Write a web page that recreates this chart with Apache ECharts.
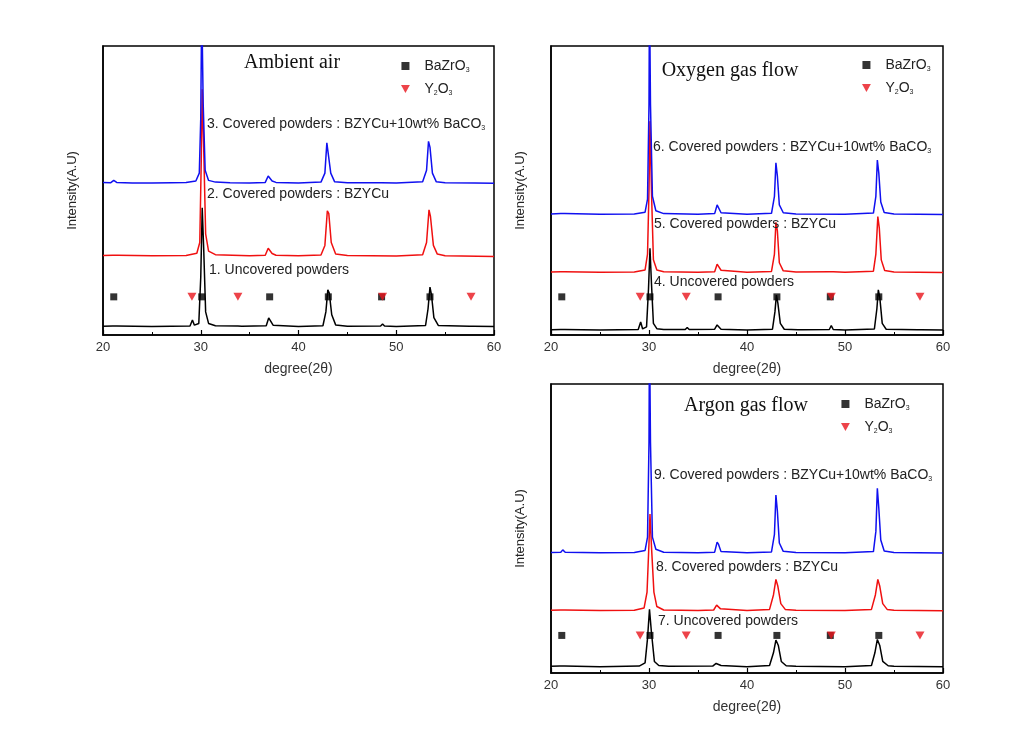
<!DOCTYPE html>
<html>
<head>
<meta charset="utf-8">
<script src="https://cdn.jsdelivr.net/npm/echarts@6/dist/echarts.min.js"></script>
<style>html,body{margin:0;padding:0;background:#fff}#c{width:1024px;height:740px}</style>
</head>
<body>
<div id="c"></div>
<script>
// ---- Data: [2θ (degree), intensity (A.U., stacked offset included)] ----
// Panel 1: Ambient air
var air1Black = [[20,3],[21,3.1],[21.2,3.6],[21.4,3.1],[25,2.9],[28.9,3.1],[29.15,5.2],[29.35,3.4],[29.8,4],[30.0,20],[30.15,44],[30.3,30],[30.5,8],[30.8,4],[31.5,3.2],[33.8,3.1],[34,3.4],[34.2,3.0],[36.7,3.2],[36.95,5.9],[37.1,5.6],[37.4,3.4],[40,2.9],[42.5,3.2],[42.8,8],[43.0,15.6],[43.15,14.5],[43.4,7],[43.8,3.5],[45,3],[48.4,3.1],[48.6,3.8],[48.8,3.1],[50,2.9],[53,3.3],[53.25,9],[53.45,16.6],[53.6,14],[53.85,6],[54.3,3.3],[57.5,3],[57.7,3.3],[57.9,3],[60,2.9]];
var air2Red = [[20,27.5],[21.0,27.6],[21.2,28.2],[21.5,27.6],[25,27.4],[28.5,27.5],[29.6,28.3],[29.9,32],[30.05,60],[30.15,85],[30.3,65],[30.5,35],[30.8,29],[31.5,27.8],[35,27.4],[36.6,27.6],[36.9,30],[37.05,30.4],[37.3,28.2],[37.7,27.6],[40,27.4],[42.3,27.7],[42.7,31],[42.95,43],[43.1,42],[43.35,32],[43.8,28],[45,27.5],[50,27.3],[52.7,27.8],[53.1,32],[53.35,43.3],[53.5,41],[53.8,31],[54.2,28],[55,27.4],[60,27.2]];
var air3Blue = [[20,52.8],[20.8,52.7],[21.1,53.5],[21.4,52.8],[23,52.6],[25,52.6],[27,52.7],[28.5,52.8],[29.5,53.3],[29.85,56],[30.0,75],[30.1,115],[30.25,80],[30.45,57],[30.8,53.5],[31.5,52.9],[33,52.7],[35,52.6],[36.6,52.8],[36.9,55],[37.05,55.6],[37.3,53.3],[37.7,52.8],[40,52.6],[42.3,52.9],[42.7,56],[42.9,66.5],[43.05,66],[43.3,56],[43.7,53],[45,52.7],[48.5,52.7],[50,52.6],[52.7,53],[53.1,57],[53.3,67],[53.45,65],[53.7,56],[54.1,53],[55,52.7],[58,52.6],[60,52.5]];
// Panel 2: Oxygen gas flow
var oxy4Black = [[20,1.8],[21,1.9],[21.2,2.3],[21.4,1.9],[25,1.7],[28.9,1.9],[29.15,4.5],[29.35,2.1],[29.75,2.8],[29.95,16],[30.1,30],[30.25,18],[30.45,4],[30.8,2.2],[31.5,1.9],[33.7,1.9],[33.9,2.6],[34.1,1.9],[36.7,2],[36.95,3.5],[37.1,3.3],[37.35,2],[40,1.7],[42.6,2],[42.85,8],[43.0,13.8],[43.15,11],[43.4,4],[43.8,2],[45.2,1.8],[45.4,2.2],[45.6,1.8],[48.4,1.9],[48.6,3.3],[48.8,1.9],[50,1.7],[53.0,2.1],[53.25,9],[53.4,15.6],[53.55,13],[53.8,4],[54.2,2],[57.4,1.8],[57.6,2.3],[57.8,1.8],[60,1.7]];
var oxy5Red = [[20,21.8],[21,21.9],[21.2,22.4],[21.4,21.9],[25,21.7],[28.5,21.8],[29.6,22.5],[29.85,28],[30.0,50],[30.1,74],[30.25,50],[30.45,26],[30.8,22.5],[31.5,21.9],[35,21.7],[36.7,21.9],[36.95,24.5],[37.1,25],[37.35,22.4],[40,21.7],[42.5,22],[42.8,28],[42.95,39],[43.1,36],[43.3,25],[43.7,22.2],[45,21.8],[48.4,21.9],[48.6,22.3],[48.8,21.9],[50,21.7],[52.9,22.1],[53.15,28],[53.35,41],[53.5,37],[53.7,26],[54.05,22.3],[55,21.8],[60,21.6]];
var oxy6Blue = [[20,41.9],[21,42],[21.2,42.5],[21.4,42],[25,41.8],[28.5,41.9],[29.6,42.5],[29.85,47],[30.0,80],[30.05,120],[30.15,80],[30.35,48],[30.7,43],[31.5,42],[35,41.8],[36.7,42],[36.95,45],[37.1,44.5],[37.35,42.3],[40,41.8],[42.5,42.1],[42.8,48],[42.95,59.6],[43.1,55],[43.3,45],[43.7,42.3],[45,41.9],[50,41.8],[52.9,42.2],[53.15,48],[53.3,60.5],[53.45,56],[53.65,46],[54,42.4],[55,41.9],[60,41.7]];
// Panel 3: Argon gas flow
var arg7Black = [[20,2.3],[20.9,2.4],[21.1,2.8],[21.4,2.4],[25,2.2],[29,2.4],[29.6,3.5],[29.85,12],[30.05,22],[30.25,14],[30.55,4],[31,2.6],[32,2.3],[36.5,2.4],[36.85,3.3],[37.05,3.4],[37.35,2.6],[40,2.2],[42.3,2.6],[42.7,7],[42.95,11.4],[43.2,9.5],[43.5,4],[44,2.5],[45,2.3],[50,2.2],[52.7,2.6],[53.05,7],[53.3,11.6],[53.55,9.5],[53.85,4],[54.4,2.5],[55,2.3],[60,2.2]];
var arg8Red = [[20,21.7],[21,21.8],[21.2,22.2],[21.4,21.8],[25,21.6],[28.5,21.7],[29.5,22.5],[29.8,28],[30.0,45],[30.1,55],[30.25,44],[30.5,28],[30.8,23],[31.5,21.8],[35,21.6],[36.6,21.8],[36.9,23.5],[37.05,24],[37.3,22.2],[40,21.6],[42.3,22],[42.7,27],[42.95,32.4],[43.15,30],[43.45,24],[43.9,22],[45,21.7],[50,21.6],[52.7,22],[53.1,27],[53.35,32.4],[53.55,30],[53.85,24],[54.3,22],[55,21.7],[60,21.5]];
var arg9Blue = [[20,41.7],[21,41.8],[21.2,42.6],[21.45,41.8],[25,41.6],[28.5,41.7],[29.6,42.4],[29.85,47],[30.0,80],[30.05,120],[30.15,80],[30.35,47],[30.7,42.8],[31.5,41.8],[35,41.6],[36.7,41.8],[36.95,45.3],[37.1,44.5],[37.35,42],[40,41.6],[42.5,41.9],[42.8,48],[42.95,61.6],[43.1,56],[43.3,45],[43.7,42.1],[45,41.7],[50,41.6],[52.9,42],[53.15,49],[53.3,63.9],[53.45,57],[53.65,46],[54,42.2],[55,41.7],[60,41.5]];
// Phase reference markers (2θ positions) and marker heights per panel
var bazro3Pos = [21.1, 30.1, 37.05, 43.05, 48.5, 53.45];
var y2o3Pos = [29.1, 33.8, 48.6, 57.65];
var markerLevel = [13.2, 13.2, 13.0];
// Axis ticks
var xTicks = [20, 30, 40, 50, 60];
var panelTitles = ['Ambient air', 'Oxygen gas flow', 'Argon gas flow'];

var spectra = [[air1Black, air2Red, air3Blue],[oxy4Black, oxy5Red, oxy6Blue],[arg7Black, arg8Red, arg9Blue]];
var lineColors = ['#000000', '#f01010', '#1010f0'];
var grids = [
  {left: 103, top: 46, width: 391, height: 289},
  {left: 551, top: 46, width: 392, height: 289},
  {left: 551, top: 384, width: 392, height: 289}
];
var FONT = 'Liberation Sans, Arial, sans-serif';
var chart = echarts.init(document.getElementById('c'), null, {renderer: 'canvas'});
var option = {
  animation: false,
  backgroundColor: '#fff',
  grid: grids.map(function (g) { return Object.assign({show: true, borderColor: '#000', borderWidth: 1.5, backgroundColor: 'transparent', containLabel: false}, g); }),
  xAxis: grids.map(function (g, i) {
    return {
      type: 'value', gridIndex: i, min: xTicks[0], max: xTicks[xTicks.length - 1], interval: 10,
      name: 'degree(2\u03b8)', nameLocation: 'middle', nameGap: 27,
      nameTextStyle: {fontFamily: FONT, fontSize: 14, color: '#333'},
      axisLine: {show: true, onZero: false, lineStyle: {color: '#000', width: 1.5}},
      axisTick: {show: true, inside: true, length: 5, lineStyle: {color: '#000', width: 1.2}},
      minorTick: {show: true, splitNumber: 2, length: 3, lineStyle: {color: '#000', width: 1}},
      axisLabel: {fontFamily: FONT, fontSize: 13, color: '#333', margin: 6},
      splitLine: {show: false}
    };
  }),
  yAxis: grids.map(function (g, i) {
    return {
      type: 'value', gridIndex: i, min: 0, max: 100,
      name: 'Intensity(A.U)', nameLocation: 'middle', nameGap: 24,
      nameTextStyle: {fontFamily: FONT, fontSize: 13, color: '#222'},
      axisLine: {show: true, lineStyle: {color: '#000', width: 1.5}},
      axisTick: {show: false}, axisLabel: {show: false}, splitLine: {show: false}
    };
  }),
  legend: grids.map(function (g, i) {
    var pos = [[396, 54], [857, 53], [836, 392]][i];
    return {
      orient: 'vertical', left: pos[0], top: pos[1], itemGap: 8,
      itemWidth: 28, itemHeight: 8, selectedMode: false,
      data: [
        {name: 'BaZrO3', icon: 'path://M0,0L10,0L10,10L0,10Z', itemStyle: {color: '#000'}},
        {name: 'Y2O3', icon: 'path://M0,0L10,0L5,9Z', itemStyle: {color: '#e8141c'}}
      ],
      formatter: function (n) { return n === 'BaZrO3' ? '{a|BaZrO}{s|3}' : '{a|Y}{s|2}{a|O}{s|3}'; },
      textStyle: {
        rich: {
          a: {fontFamily: FONT, fontSize: 14, color: '#222', lineHeight: 16, verticalAlign: 'middle'},
          s: {fontFamily: FONT, fontSize: 7, color: '#222', lineHeight: 16, verticalAlign: 'bottom', padding: [6, 0, 0, 0]}
        }
      }
    };
  }),
  series: [],
  graphic: []
};

spectra.forEach(function (set, p) {
  set.forEach(function (data, k) {
    option.series.push({
      type: 'line', xAxisIndex: p, yAxisIndex: p, data: data, showSymbol: false,
      lineStyle: {color: lineColors[k], width: 1.5}, itemStyle: {color: lineColors[k]},
      clip: true, silent: true, z: 2 + k
    });
  });
  option.series.push({
    type: 'scatter', name: 'BaZrO3', xAxisIndex: p, yAxisIndex: p, symbol: 'rect', symbolSize: 7,
    itemStyle: {color: '#000'}, z: 6,
    data: bazro3Pos.map(function (x) { return [x, markerLevel[p]]; })
  });
  option.series.push({
    type: 'scatter', name: 'Y2O3', xAxisIndex: p, yAxisIndex: p, symbol: 'path://M0,0L10,0L5,9Z', symbolSize: [9, 8],
    itemStyle: {color: '#e8141c'}, z: 7,
    data: y2o3Pos.map(function (x) { return [x, markerLevel[p]]; })
  });
});

// Panel titles (serif) and curve annotations
var titlePos = [[292, 63], [730, 71], [746, 406]];
titlePos.forEach(function (tp, i) {
  option.graphic.push({type: 'text', x: tp[0], y: tp[1], z: 10, silent: true,
    style: {text: panelTitles[i], fill: '#111', font: '20px "Liberation Serif", "Times New Roman", serif', align: 'center', verticalAlign: 'middle'}});
});
var labelRich = {
  a: {fontFamily: FONT, fontSize: 14, fill: '#222', lineHeight: 16, verticalAlign: 'middle'},
  s: {fontFamily: FONT, fontSize: 7, fill: '#222', lineHeight: 16, verticalAlign: 'bottom', padding: [6, 0, 0, 0]}
};
var annotations = [
  [207, 124, '{a|3. Covered powders : BZYCu+10wt% BaCO}{s|3}'],
  [207, 194, '{a|2. Covered powders : BZYCu}'],
  [209, 270, '{a|1. Uncovered powders}'],
  [653, 147, '{a|6. Covered powders : BZYCu+10wt% BaCO}{s|3}'],
  [654, 224, '{a|5. Covered powders : BZYCu}'],
  [654, 282, '{a|4. Uncovered powders}'],
  [654, 475, '{a|9. Covered powders : BZYCu+10wt% BaCO}{s|3}'],
  [656, 567, '{a|8. Covered powders : BZYCu}'],
  [658, 621, '{a|7. Uncovered powders}']
];
annotations.forEach(function (a) {
  option.graphic.push({type: 'text', x: a[0], y: a[1], z: 10, silent: true,
    style: {text: a[2], rich: labelRich, align: 'left', verticalAlign: 'middle'}});
});

chart.setOption(option);
</script>
</body>
</html>
